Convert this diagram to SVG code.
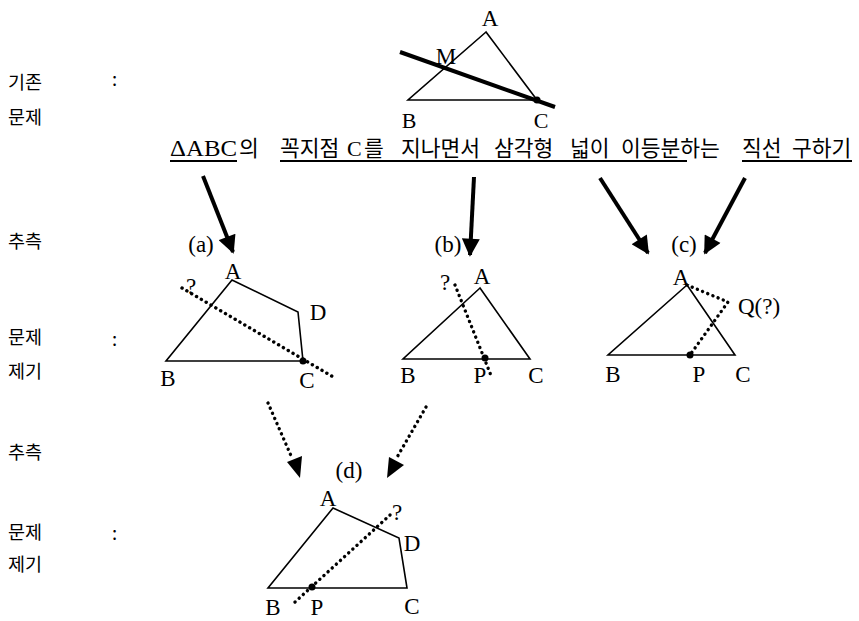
<svg xmlns="http://www.w3.org/2000/svg" width="859" height="621" viewBox="0 0 859 621">
<style>
.k{font-family:"Noto Sans CJK KR","Noto Sans",sans-serif;fill:#000}
.l{font-family:"Liberation Serif","Noto Sans CJK KR",serif;fill:#000;font-size:23px;text-anchor:middle}
.side{font-size:18.5px}
.main{font-size:21.5px}
.shape{fill:none;stroke:#000;stroke-width:1.6;stroke-linejoin:miter}
.dot{fill:none;stroke:#000;stroke-width:3.4;stroke-linecap:round;stroke-dasharray:0.1 5.5}
.arr{stroke:#000;stroke-width:4;fill:none}
.ul{stroke:#000;stroke-width:2}
</style>
<defs>
<marker id="ah" viewBox="0 0 10 10" refX="9" refY="5" markerWidth="4.8" markerHeight="4.5" orient="auto" markerUnits="strokeWidth">
<path d="M0,0 L10,5 L0,10 Z" fill="#000"/>
</marker>
</defs>
<rect width="859" height="621" fill="#fff"/>

<g id="side-labels">
<text class="k side" x="8" y="89">기존</text>
<text class="k side" x="8" y="124">문제</text>
<text class="k side" x="112" y="86">:</text>
<text class="k side" x="8" y="248">추측</text>
<text class="k side" x="8" y="344">문제</text>
<text class="k side" x="112" y="346">:</text>
<text class="k side" x="8" y="378">제기</text>
<text class="k side" x="8" y="459">추측</text>
<text class="k side" x="8" y="539">문제</text>
<text class="k side" x="112" y="540">:</text>
<text class="k side" x="8" y="571">제기</text>
</g>

<g id="top-figure">
<polygon class="shape" points="486,32 408,100 537,100"/>
<line x1="400" y1="52" x2="555" y2="107" stroke="#000" stroke-width="4"/>
<circle cx="537" cy="100" r="3.5" fill="#000"/>
<text class="l" x="490" y="26">A</text>
<text class="l" x="446" y="64">M</text>
<text class="l" x="409" y="128" style="font-size:22px">B</text>
<text class="l" x="541" y="128" style="font-size:22px">C</text>
</g>

<g id="problem-text">
<text class="l" x="170" y="156" style="text-anchor:start;font-size:23px" textLength="67" lengthAdjust="spacingAndGlyphs">ΔABC</text>
<text class="k main" x="239" y="156">의</text>
<text class="k main" x="280" y="156">꼭지점</text>
<text class="l" x="347" y="156" style="text-anchor:start;font-size:22px">C</text>
<text class="k main" x="364" y="156">를</text>
<text class="k main" x="401" y="156">지나면서</text>
<text class="k main" x="494" y="156">삼각형</text>
<text class="k main" x="570" y="156">넓이</text>
<text class="k main" x="621" y="156">이등분하는</text>
<text class="k main" x="742" y="156">직선</text>
<text class="k main" x="792" y="156">구하기</text>
<line class="ul" x1="170" y1="161" x2="237" y2="161"/>
<line class="ul" x1="280" y1="161" x2="687" y2="161"/>
<line class="ul" x1="742" y1="161" x2="852" y2="161"/>
</g>

<g id="connectors">
<line class="arr" x1="203" y1="176" x2="233" y2="252" marker-end="url(#ah)"/>
<line class="arr" x1="474" y1="177" x2="470" y2="255" marker-end="url(#ah)"/>
<line class="arr" x1="600" y1="178" x2="648" y2="253" marker-end="url(#ah)"/>
<line class="arr" x1="745" y1="178" x2="705" y2="253" marker-end="url(#ah)"/>
<line class="dot" x1="268" y1="403" x2="292" y2="458"/>
<polygon points="300,478 287,462 302,456" fill="#000"/>
<line class="dot" x1="426" y1="407" x2="396" y2="459"/>
<polygon points="387,478 389,457 404,465" fill="#000"/>
</g>

<g id="node-a">
<text class="l" x="201" y="252">(a)</text>
<polygon class="shape" points="232,280 298,312 303,361 166,361"/>
<line class="dot" x1="182" y1="288" x2="335" y2="378"/>
<circle cx="303" cy="361" r="3.5" fill="#000"/>
<text class="l" x="191" y="294">?</text>
<text class="l" x="233" y="279">A</text>
<text class="l" x="318" y="320">D</text>
<text class="l" x="168" y="386">B</text>
<text class="l" x="307" y="388">C</text>
</g>

<g id="node-b">
<text class="l" x="448" y="252">(b)</text>
<polygon class="shape" points="480,288 403,359 530,359"/>
<line class="dot" x1="455" y1="285" x2="492" y2="378"/>
<circle cx="485" cy="358" r="3.5" fill="#000"/>
<text class="l" x="445" y="290">?</text>
<text class="l" x="482" y="284">A</text>
<text class="l" x="408" y="383">B</text>
<text class="l" x="480" y="383">P</text>
<text class="l" x="536" y="383">C</text>
</g>

<g id="node-c">
<text class="l" x="684" y="252">(c)</text>
<polygon class="shape" points="687,285 608,355 735,355"/>
<polyline class="dot" points="687,285 728,302 690,355"/>
<circle cx="690" cy="355" r="3.5" fill="#000"/>
<text class="l" x="681" y="285">A</text>
<text class="l" x="738" y="314" style="text-anchor:start">Q(?)</text>
<text class="l" x="613" y="382">B</text>
<text class="l" x="699" y="382">P</text>
<text class="l" x="743" y="382">C</text>
</g>

<g id="node-d">
<text class="l" x="349" y="478">(d)</text>
<polygon class="shape" points="333,508 399,538 407,588 268,588"/>
<line class="dot" x1="295" y1="602" x2="390" y2="515"/>
<circle cx="312" cy="587" r="3.5" fill="#000"/>
<text class="l" x="397" y="520">?</text>
<text class="l" x="328" y="506">A</text>
<text class="l" x="412" y="551">D</text>
<text class="l" x="273" y="615">B</text>
<text class="l" x="317" y="615">P</text>
<text class="l" x="412" y="614">C</text>
</g>
</svg>
